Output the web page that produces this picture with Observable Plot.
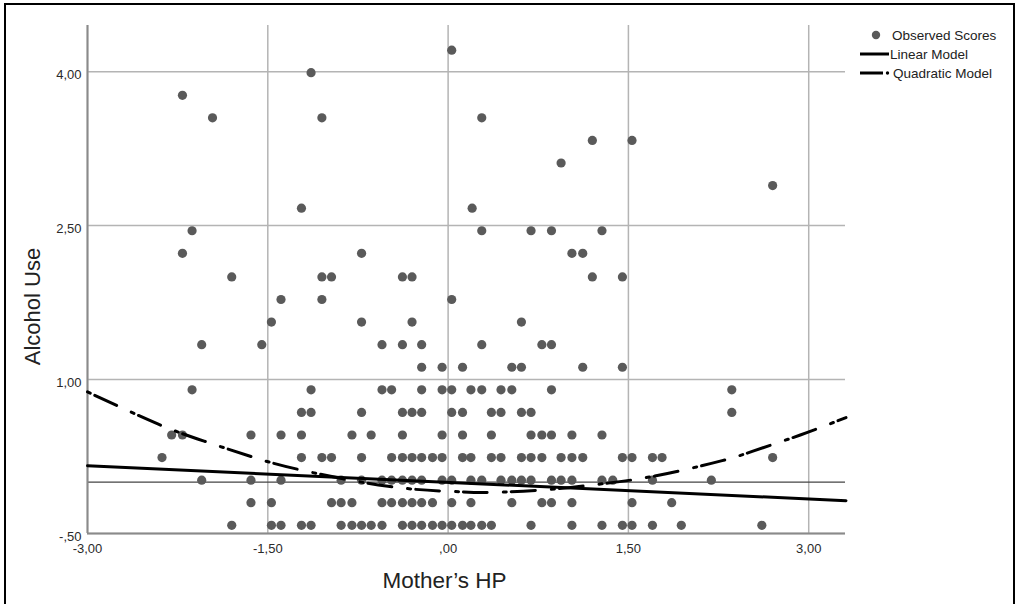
<!DOCTYPE html>
<html>
<head>
<meta charset="utf-8">
<script src="https://cdn.jsdelivr.net/npm/d3@7"></script>
<script src="https://cdn.jsdelivr.net/npm/@observablehq/plot@0.6"></script>
<style>
  html, body { margin: 0; padding: 0; background: #fff; }
  #wrap { position: relative; width: 1019px; height: 604px; overflow: hidden; font-family: "Liberation Sans", Arial, sans-serif; }
  #border { position: absolute; left: 4px; top: 3px; width: 1011px; height: 610px; border: 2px solid #000; box-sizing: border-box; pointer-events: none; }
  #legend { position: absolute; left: 858px; top: 26px; font-size: 13.5px; color: #222; }
  .row { position: absolute; left: 0; white-space: nowrap; display: flex; align-items: center; height: 18px; }
  .row svg { display: block; }
</style>
</head>
<body>
<div id="wrap">
  <div id="chart"></div>
  <div id="legend"></div>
  <div id="border"></div>
</div>
<script>
// ---- Data ----
const alcoholLevels = [4.21, 3.99, 3.77, 3.55, 3.33, 3.11, 2.89, 2.67, 2.45, 2.23, 2.00, 1.78, 1.56, 1.34, 1.12, 0.90, 0.68, 0.46, 0.24, 0.02, -0.20, -0.42];
const mothersHPAtLevel = [
  [0.03],
  [-1.14],
  [-2.21],
  [-1.96, -1.05, 0.28],
  [1.20, 1.53],
  [0.94],
  [2.70],
  [-1.22, 0.20],
  [-2.13, 0.28, 0.69, 0.86, 1.28],
  [-2.21, -0.72, 1.03, 1.12],
  [-1.80, -1.05, -0.97, -0.38, -0.30, 1.20, 1.45],
  [-1.39, -1.05, 0.03],
  [-1.47, -0.72, -0.30, 0.61],
  [-2.05, -1.55, -0.55, -0.38, -0.22, 0.28, 0.78, 0.86],
  [-0.22, -0.05, 0.12, 0.53, 0.61, 1.12, 1.45],
  [-2.13, -1.14, -0.55, -0.47, -0.22, -0.05, 0.03, 0.19, 0.28, 0.44, 0.53, 0.86, 2.36],
  [-1.22, -1.14, -0.72, -0.38, -0.30, -0.22, 0.03, 0.12, 0.36, 0.44, 0.61, 0.69, 2.36],
  [-2.30, -2.21, -1.64, -1.39, -1.22, -0.80, -0.64, -0.38, -0.05, 0.12, 0.36, 0.69, 0.78, 0.86, 1.03, 1.28],
  [-2.38, -1.22, -1.05, -0.97, -0.72, -0.47, -0.38, -0.30, -0.22, -0.13, -0.05, 0.12, 0.19, 0.36, 0.44, 0.61, 0.69, 0.78, 0.94, 1.03, 1.12, 1.45, 1.53, 1.70, 1.78, 2.70],
  [-2.05, -1.64, -1.39, -0.89, -0.72, -0.55, -0.47, -0.38, -0.30, -0.22, -0.05, 0.03, 0.19, 0.28, 0.44, 0.53, 0.61, 0.69, 0.86, 0.94, 1.03, 1.28, 1.37, 1.70, 2.19],
  [-1.64, -1.47, -0.97, -0.89, -0.80, -0.55, -0.47, -0.38, -0.30, -0.22, -0.13, 0.03, 0.19, 0.53, 0.78, 0.86, 1.03, 1.53, 1.86],
  [-1.80, -1.47, -1.39, -1.22, -1.14, -0.89, -0.80, -0.72, -0.64, -0.55, -0.38, -0.30, -0.22, -0.13, -0.05, 0.03, 0.12, 0.19, 0.28, 0.36, 0.69, 1.03, 1.28, 1.45, 1.53, 1.70, 1.94, 2.61]
];
// Fitted model lines
const linearX = [-3.0, 3.31];
const linearY = [0.16, -0.18];
const quadX = [-3.0, -2.42, -2.03, -1.64, -1.23, -0.50, 0.03, 0.35, 0.85, 1.25, 1.72, 2.28, 2.53, 2.93, 3.31];
const quadY = [0.88, 0.57, 0.40, 0.25, 0.12, -0.04, -0.09, -0.10, -0.07, -0.02, 0.06, 0.21, 0.30, 0.46, 0.63];
const xTicks = [-3, -1.5, 0, 1.5, 3];
const yTicks = [-0.5, 1, 2.5, 4];
const referenceY = [0];
const xLabel = "Mother’s HP";
const yLabel = "Alcohol Use";
const legendLabels = ["Observed Scores", "Linear Model", "Quadratic Model"];

// ---- Build tables ----
const observed = [];
alcoholLevels.forEach((y, i) => mothersHPAtLevel[i].forEach(x => observed.push({x, y})));
const linear = linearX.map((x, i) => ({x, y: linearY[i]}));
const quad = quadX.map((x, i) => ({x, y: quadY[i]}));

const spss = v => {
  let s = Math.abs(v).toFixed(2).replace(".", ",");
  if (s.startsWith("0,")) s = s.slice(1);
  return (v < 0 ? "-" : "") + s;
};

const DASH = "3,5,24,16";

const chart = Plot.plot({
  width: 1019,
  height: 604,
  marginLeft: 87,
  marginRight: 174,
  marginTop: 25,
  marginBottom: 71,
  style: {fontFamily: "'Liberation Sans', Arial, sans-serif", background: "transparent", color: "#333"},
  x: {domain: [-3, 3.306]},
  y: {domain: [-0.5, 4.45]},
  marks: [
    Plot.gridX(xTicks, {stroke: "#b4b4b4", strokeOpacity: 1, strokeWidth: 1.5}),
    Plot.gridY(yTicks, {stroke: "#b4b4b4", strokeOpacity: 1, strokeWidth: 1.5}),
    Plot.ruleY(referenceY, {stroke: "#444", strokeWidth: 1.3}),
    Plot.ruleX([-3], {stroke: "#8a8a8a", strokeWidth: 2}),
    Plot.ruleY([-0.5], {stroke: "#8a8a8a", strokeWidth: 2}),
    Plot.dot(observed, {x: "x", y: "y", r: 4.6, fill: "#5a5a5a", stroke: "none"}),
    Plot.line(linear, {x: "x", y: "y", stroke: "#000", strokeWidth: 3}),
    Plot.line(quad, {x: "x", y: "y", stroke: "#000", strokeWidth: 3, curve: "natural", strokeDasharray: DASH, strokeLinecap: "round"}),
    Plot.axisX(xTicks, {tickSize: 0, tickPadding: 10, tickFormat: spss, fontSize: 13, label: null, color: "#2a2a2a"}),
    Plot.axisY(yTicks, {tickSize: 0, tickPadding: 6, tickFormat: spss, fontSize: 13, label: null, dy: 3, color: "#2a2a2a"}),
    Plot.text([xLabel], {frameAnchor: "bottom", textAnchor: "middle", dx: -22, dy: 47, fontSize: 22.5, fill: "#222", lineAnchor: "middle"}),
    Plot.text([yLabel], {frameAnchor: "left", textAnchor: "middle", dx: -55, dy: 27, rotate: -90, fontSize: 22, fill: "#222", lineAnchor: "middle"})
  ]
});
document.getElementById("chart").appendChild(chart);

// ---- Legend ----
const legend = document.getElementById("legend");
const swatches = [
  `<svg width="33" height="12"><circle cx="18" cy="6" r="4.2" fill="#5a5a5a"/></svg>`,
  `<svg width="31" height="12"><line x1="2" y1="6" x2="31" y2="6" stroke="#000" stroke-width="3"/></svg>`,
  `<svg width="34" height="12"><line x1="2" y1="6" x2="25" y2="6" stroke="#000" stroke-width="3"/><circle cx="29.5" cy="6" r="1.7" fill="#000"/></svg>`
];
const tops = [0, 19, 38];
legendLabels.forEach((t, i) => {
  const row = document.createElement("div");
  row.className = "row";
  row.style.top = tops[i] + "px";
  row.innerHTML = swatches[i] + `<span style="margin-left:1px">${t}</span>`;
  legend.appendChild(row);
});
</script>
</body>
</html>
